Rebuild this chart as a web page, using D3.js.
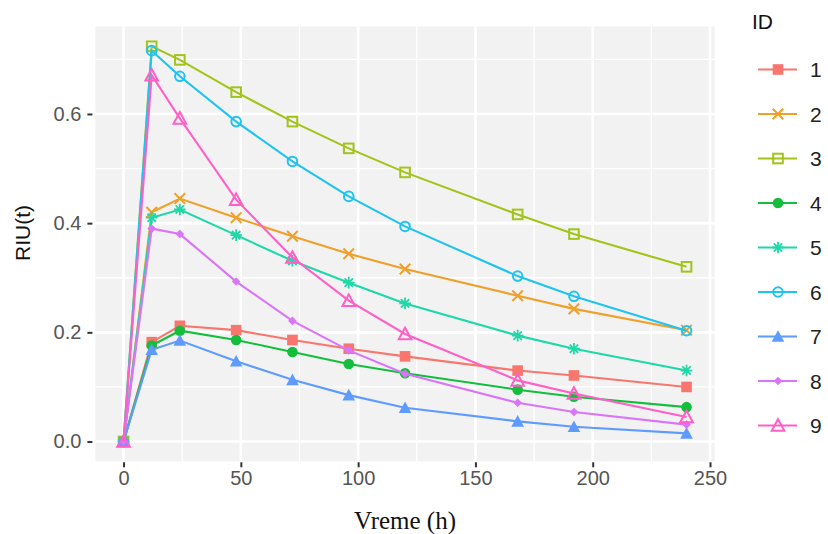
<!DOCTYPE html>
<html>
<head>
<meta charset="utf-8">
<script src="https://cdn.jsdelivr.net/npm/d3@7"></script>
<style>
  html, body { margin: 0; padding: 0; background: #ffffff; }
  svg { display: block; }
</style>
</head>
<body>
<svg id="chart" width="828" height="534"></svg>
<script>
// Sampling times (hours)
const times = [0, 12, 24, 48, 72, 96, 120, 168, 192, 240];

// Series identifiers
const ids = ["1", "2", "3", "4", "5", "6", "7", "8", "9"];

// RIU(t) per ID, one value per sampling time
const riu1 = [0, 0.182, 0.212, 0.204, 0.186, 0.170, 0.156, 0.130, 0.121, 0.100];
const riu2 = [0, 0.420, 0.445, 0.410, 0.376, 0.344, 0.316, 0.267, 0.243, 0.204];
const riu3 = [0, 0.724, 0.699, 0.640, 0.586, 0.537, 0.493, 0.416, 0.380, 0.320];
const riu4 = [0, 0.176, 0.203, 0.186, 0.164, 0.142, 0.125, 0.095, 0.082, 0.063];
const riu5 = [0, 0.410, 0.425, 0.378, 0.331, 0.291, 0.253, 0.194, 0.170, 0.130];
const riu6 = [0, 0.716, 0.669, 0.586, 0.513, 0.449, 0.394, 0.303, 0.266, 0.203];
const riu7 = [0, 0.168, 0.185, 0.147, 0.113, 0.085, 0.062, 0.037, 0.027, 0.015];
const riu8 = [0, 0.390, 0.380, 0.293, 0.221, 0.167, 0.124, 0.071, 0.054, 0.031];
const riu9 = [0, 0.671, 0.592, 0.443, 0.337, 0.258, 0.197, 0.112, 0.088, 0.045];
const riuValues = [riu1, riu2, riu3, riu4, riu5, riu6, riu7, riu8, riu9];

// Axis tick values
const xTicks = [0, 50, 100, 150, 200, 250];
const xMinor = [25, 75, 125, 175, 225];
const yTicks = [0, 0.2, 0.4, 0.6];
const yMinor = [0.1, 0.3, 0.5, 0.7];

const colors = ["#F8766D", "#EFA02A", "#A2C41A", "#14BE3C", "#1ED8A8",
                "#1FC3F0", "#5E9BFF", "#DA74F8", "#FF5FC6"];
const shapes = ["squareFilled", "cross", "squareOpen", "circleFilled", "asterisk",
                "circleOpen", "triangleFilled", "diamondFilled", "triangleOpen"];

const sans = "Liberation Sans, Arial, sans-serif";
const svg = d3.select("#chart");

const panel = { left: 95.4, right: 714.7, top: 26.5, bottom: 461.3 };

const x = d3.scaleLinear().domain([-12, 252]).range([panel.left, panel.right]);
const yMax = d3.max(riuValues.flat());
const yPad = yMax * 0.05;
const y = d3.scaleLinear().domain([-yPad, yMax + yPad]).range([panel.bottom, panel.top]);

// Panel background
svg.append("rect")
  .attr("x", panel.left).attr("y", panel.top)
  .attr("width", panel.right - panel.left).attr("height", panel.bottom - panel.top)
  .attr("fill", "#F2F2F2");

const grid = svg.append("g");
// Minor gridlines
grid.selectAll(".xminor").data(xMinor).join("line")
  .attr("x1", d => x(d)).attr("x2", d => x(d))
  .attr("y1", panel.top).attr("y2", panel.bottom)
  .attr("stroke", "#ffffff").attr("stroke-width", 1.3);
grid.selectAll(".yminor").data(yMinor.filter(v => y(v) > panel.top)).join("line")
  .attr("y1", d => y(d)).attr("y2", d => y(d))
  .attr("x1", panel.left).attr("x2", panel.right)
  .attr("stroke", "#ffffff").attr("stroke-width", 1.3);
// Major gridlines
grid.selectAll(".xmajor").data(xTicks).join("line")
  .attr("x1", d => x(d)).attr("x2", d => x(d))
  .attr("y1", panel.top).attr("y2", panel.bottom)
  .attr("stroke", "#ffffff").attr("stroke-width", 2.6);
grid.selectAll(".ymajor").data(yTicks).join("line")
  .attr("y1", d => y(d)).attr("y2", d => y(d))
  .attr("x1", panel.left).attr("x2", panel.right)
  .attr("stroke", "#ffffff").attr("stroke-width", 2.6);

// Axes
const xAxis = d3.axisBottom(x).tickValues(xTicks).tickSize(5).tickPadding(4)
  .tickFormat(d3.format("d"));
const yAxis = d3.axisLeft(y).tickValues(yTicks).tickSize(5).tickPadding(6)
  .tickFormat(d3.format(".1f"));

const gx = svg.append("g").attr("transform", `translate(0,${panel.bottom + 1})`).call(xAxis);
const gy = svg.append("g").attr("transform", `translate(${panel.left - 3},0)`).call(yAxis);
[gx, gy].forEach(g => {
  g.select(".domain").remove();
  g.selectAll(".tick line").attr("stroke", "#333333").attr("stroke-width", 2);
  g.selectAll(".tick text")
    .attr("fill", "#555555")
    .style("font-family", sans)
    .style("font-size", "20px");
});

// Axis titles
svg.append("text")
  .attr("x", (panel.left + panel.right) / 2).attr("y", 529)
  .attr("text-anchor", "middle")
  .style("font-family", "Liberation Serif, Times New Roman, serif")
  .style("font-size", "25px").attr("fill", "#111111")
  .text("Vreme (h)");

svg.append("text")
  .attr("transform", `translate(30,233) rotate(-90)`)
  .attr("text-anchor", "middle")
  .style("font-family", sans)
  .style("font-size", "21px").attr("fill", "#111111")
  .text("RIU(t)");

// Marker drawing
function drawMarker(sel, shape, color) {
  const s = 5.3; // half size
  if (shape === "squareFilled") {
    sel.append("rect").attr("x", -s).attr("y", -s).attr("width", 2 * s).attr("height", 2 * s)
      .attr("fill", color);
  } else if (shape === "squareOpen") {
    sel.append("rect").attr("x", -s + 0.5).attr("y", -s + 0.5).attr("width", 2 * s - 1).attr("height", 2 * s - 1)
      .attr("fill", "none").attr("stroke", color).attr("stroke-width", 2);
  } else if (shape === "circleFilled") {
    sel.append("circle").attr("r", s).attr("fill", color);
  } else if (shape === "circleOpen") {
    sel.append("circle").attr("r", s - 0.5).attr("fill", "none").attr("stroke", color).attr("stroke-width", 2);
  } else if (shape === "triangleFilled") {
    sel.append("path").attr("d", `M0,${-s - 1}L${s + 1},${s}L${-s - 1},${s}Z`).attr("fill", color);
  } else if (shape === "triangleOpen") {
    sel.append("path").attr("d", `M0,${-s - 1}L${s + 1},${s}L${-s - 1},${s}Z`)
      .attr("fill", "none").attr("stroke", color).attr("stroke-width", 2);
  } else if (shape === "diamondFilled") {
    const d = 4.3;
    sel.append("path").attr("d", `M0,${-d}L${d},0L0,${d}L${-d},0Z`).attr("fill", color);
  } else if (shape === "cross") {
    sel.append("path").attr("d", `M${-s},${-s}L${s},${s}M${-s},${s}L${s},${-s}`)
      .attr("stroke", color).attr("stroke-width", 2).attr("fill", "none");
  } else if (shape === "asterisk") {
    const r = s + 0.5, q = r * 0.72;
    sel.append("path").attr("d",
      `M${-q},${-q}L${q},${q}M${-q},${q}L${q},${-q}M0,${-r}L0,${r}M${-r},0L${r},0`)
      .attr("stroke", color).attr("stroke-width", 1.8).attr("fill", "none");
  }
}

// Series lines and points
const line = d3.line().x(d => x(d[0])).y(d => y(d[1]));
const seriesG = svg.append("g");
ids.forEach((id, i) => {
  const pts = times.map((t, j) => [t, riuValues[i][j]]);
  const g = seriesG.append("g");
  g.append("path").datum(pts).attr("d", line)
    .attr("fill", "none").attr("stroke", colors[i]).attr("stroke-width", 2.1);
  g.selectAll(".pt").data(pts).join("g")
    .attr("transform", d => `translate(${x(d[0])},${y(d[1])})`)
    .each(function () { drawMarker(d3.select(this), shapes[i], colors[i]); });
});

// Legend
const legend = svg.append("g");
legend.append("text")
  .attr("x", 752).attr("y", 29)
  .style("font-family", sans)
  .style("font-size", "21px").attr("fill", "#111111")
  .text("ID");
const keyY = d3.scaleLinear().domain([0, 8]).range([69.5, 425.5]);
ids.forEach((id, i) => {
  const k = legend.append("g").attr("transform", `translate(0,${keyY(i)})`);
  k.append("line").attr("x1", 758).attr("x2", 797).attr("y1", 0).attr("y2", 0)
    .attr("stroke", colors[i]).attr("stroke-width", 2.1);
  const m = k.append("g").attr("transform", "translate(778,0)");
  drawMarker(m, shapes[i], colors[i]);
  k.append("text").attr("x", 810).attr("y", 7.5)
    .style("font-family", sans)
    .style("font-size", "21px").attr("fill", "#222222")
    .text(id);
});
</script>
</body>
</html>
